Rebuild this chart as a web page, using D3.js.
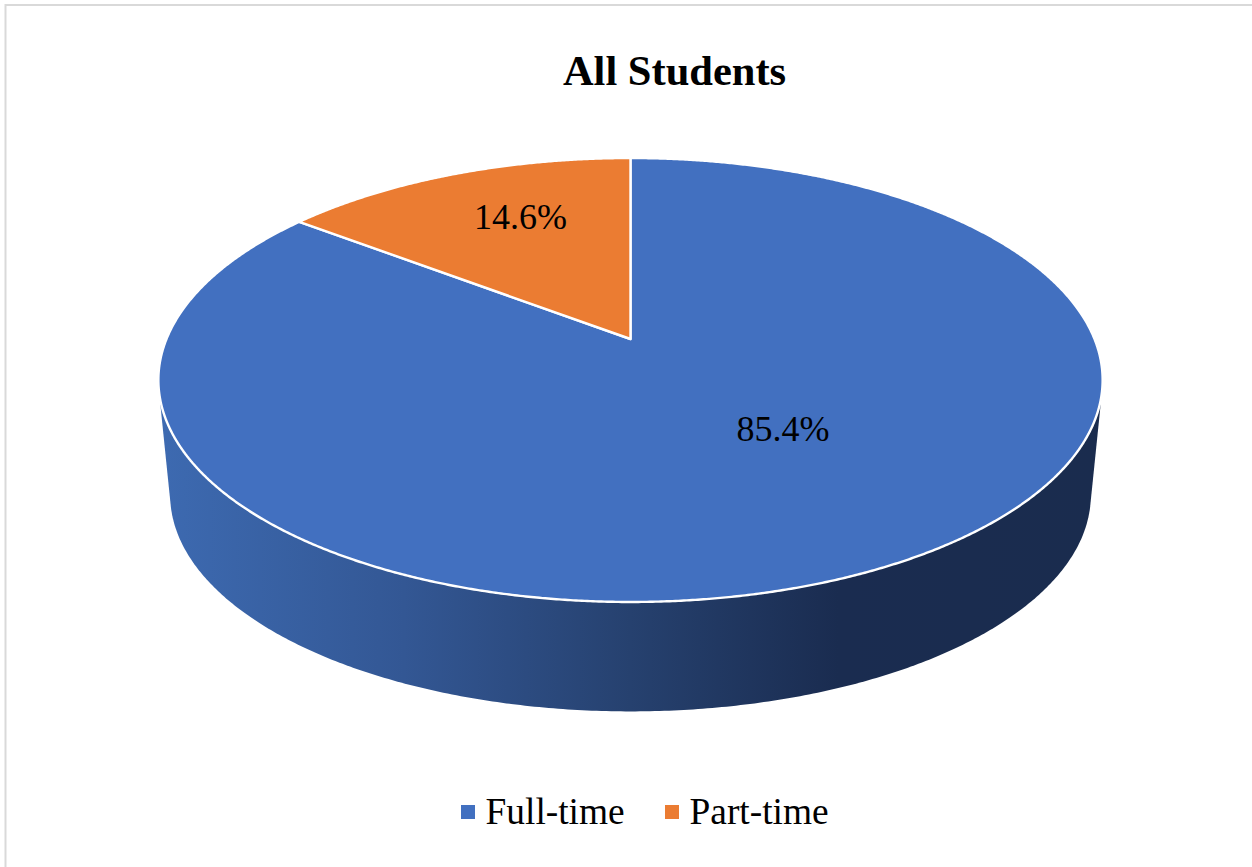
<!DOCTYPE html>
<html>
<head>
<meta charset="utf-8">
<script src="https://cdn.jsdelivr.net/npm/d3@7"></script>
<style>
  html, body { margin: 0; padding: 0; background: #fff; }
  svg { display: block; }
  text { font-family: "Liberation Serif", serif; fill: #000; }
</style>
</head>
<body>
<svg id="canvas" width="1252" height="867"></svg>
<script>
var categories = ['Full-time', 'Part-time'];
var values = [85.4, 14.6];
var colors = ['#4270c0', '#eb7c32'];
var chartTitle = 'All Students';

// where the value labels sit, same order as categories
var labelX = [783, 520.5];
var labelY = [441, 229];

// the pie is a tilted disc, the apex is not the middle of the ellipse
var apex = { x: 630.5, y: 339 };
var persp = 0.1847;
var radiusX = 464;
var radiusY = 214.4;
var depth = 116;       // drop from top face to bottom face
var bottomScale = 0.975;

var svg = d3.select('#canvas');

window.onload = function() {
    DrawFrame();
    DrawWall();
    DrawTop();
    DrawText();
}

// angle in radians clockwise from 12 o'clock, r from 0 to 1
function project(angle, r, scale, drop) {
    var u = Math.sin(angle) * r;
    var v = -Math.cos(angle) * r;
    var w = 1 - persp * v;
    return [
        apex.x + scale * radiusX * u / w,
        apex.y + drop + scale * radiusY * v / w
    ];
}

function DrawFrame() {
    svg.append('path')
        .attr('d', 'M5.5,867V5H1252')
        .attr('fill', 'none')
        .attr('stroke', '#d9d9d9')
        .attr('stroke-width', 2);
}

function DrawWall() {
    var stops = [
        { at: 0, c: '#3d6ab1' },
        { at: 0.26, c: '#335794' },
        { at: 0.5, c: '#26416f' },
        { at: 0.72, c: '#1a2c50' },
        { at: 1, c: '#1a2c4e' }
    ];
    var grad = svg.append('defs').append('linearGradient')
        .attr('id', 'wallFill')
        .attr('x1', 0).attr('x2', 1).attr('y1', 0).attr('y2', 0);
    grad.selectAll('stop')
        .data(stops)
        .join('stop')
        .attr('offset', d => d.at)
        .attr('stop-color', d => d.c);

    var angles = d3.range(0, 360, 0.5).map(d => d * Math.PI / 180);
    var pts = angles.map(a => project(a, 1, 1, 0))
        .concat(angles.map(a => project(a, 1, bottomScale, depth)));
    var hull = d3.polygonHull(pts);

    svg.append('path')
        .attr('d', 'M' + hull.join('L') + 'Z')
        .attr('fill', 'url(#wallFill)');
}

function DrawTop() {
    var pie = d3.pie().sort(null);
    var arcs = pie(values);

    svg.selectAll('path.slice')
        .data(arcs)
        .join('path')
        .attr('class', 'slice')
        .attr('d', d => {
            var n = Math.ceil((d.endAngle - d.startAngle) / 0.005);
            var pts = d3.range(n + 1).map(i =>
                project(d.startAngle + (d.endAngle - d.startAngle) * i / n, 1, 1, 0));
            pts.push(project(0, 0, 1, 0));
            return d3.line()(pts) + 'Z';
        })
        .attr('fill', (d, i) => colors[i])
        .attr('stroke', '#fff')
        .attr('stroke-width', 2.4)
        .attr('stroke-linejoin', 'round');
}

function DrawText() {
    svg.append('text')
        .attr('x', 674.5)
        .attr('y', 85)
        .attr('text-anchor', 'middle')
        .attr('font-size', 42.5)
        .attr('font-weight', 'bold')
        .text(chartTitle);

    svg.selectAll('text.val')
        .data(values)
        .join('text')
        .attr('class', 'val')
        .attr('x', (d, i) => labelX[i])
        .attr('y', (d, i) => labelY[i])
        .attr('text-anchor', 'middle')
        .attr('font-size', 36)
        .text(d => d3.format('.1f')(d) + '%');

    var legendX = [461, 665];
    var legend = svg.selectAll('g.key')
        .data(categories)
        .join('g')
        .attr('class', 'key')
        .attr('transform', (d, i) => 'translate(' + legendX[i] + ',0)');
    legend.append('rect')
        .attr('y', 805)
        .attr('width', 14)
        .attr('height', 14)
        .attr('fill', (d, i) => colors[i]);
    legend.append('text')
        .attr('x', 24.5)
        .attr('y', 824)
        .attr('font-size', 37.4)
        .text(d => d);
}
</script>
</body>
</html>
